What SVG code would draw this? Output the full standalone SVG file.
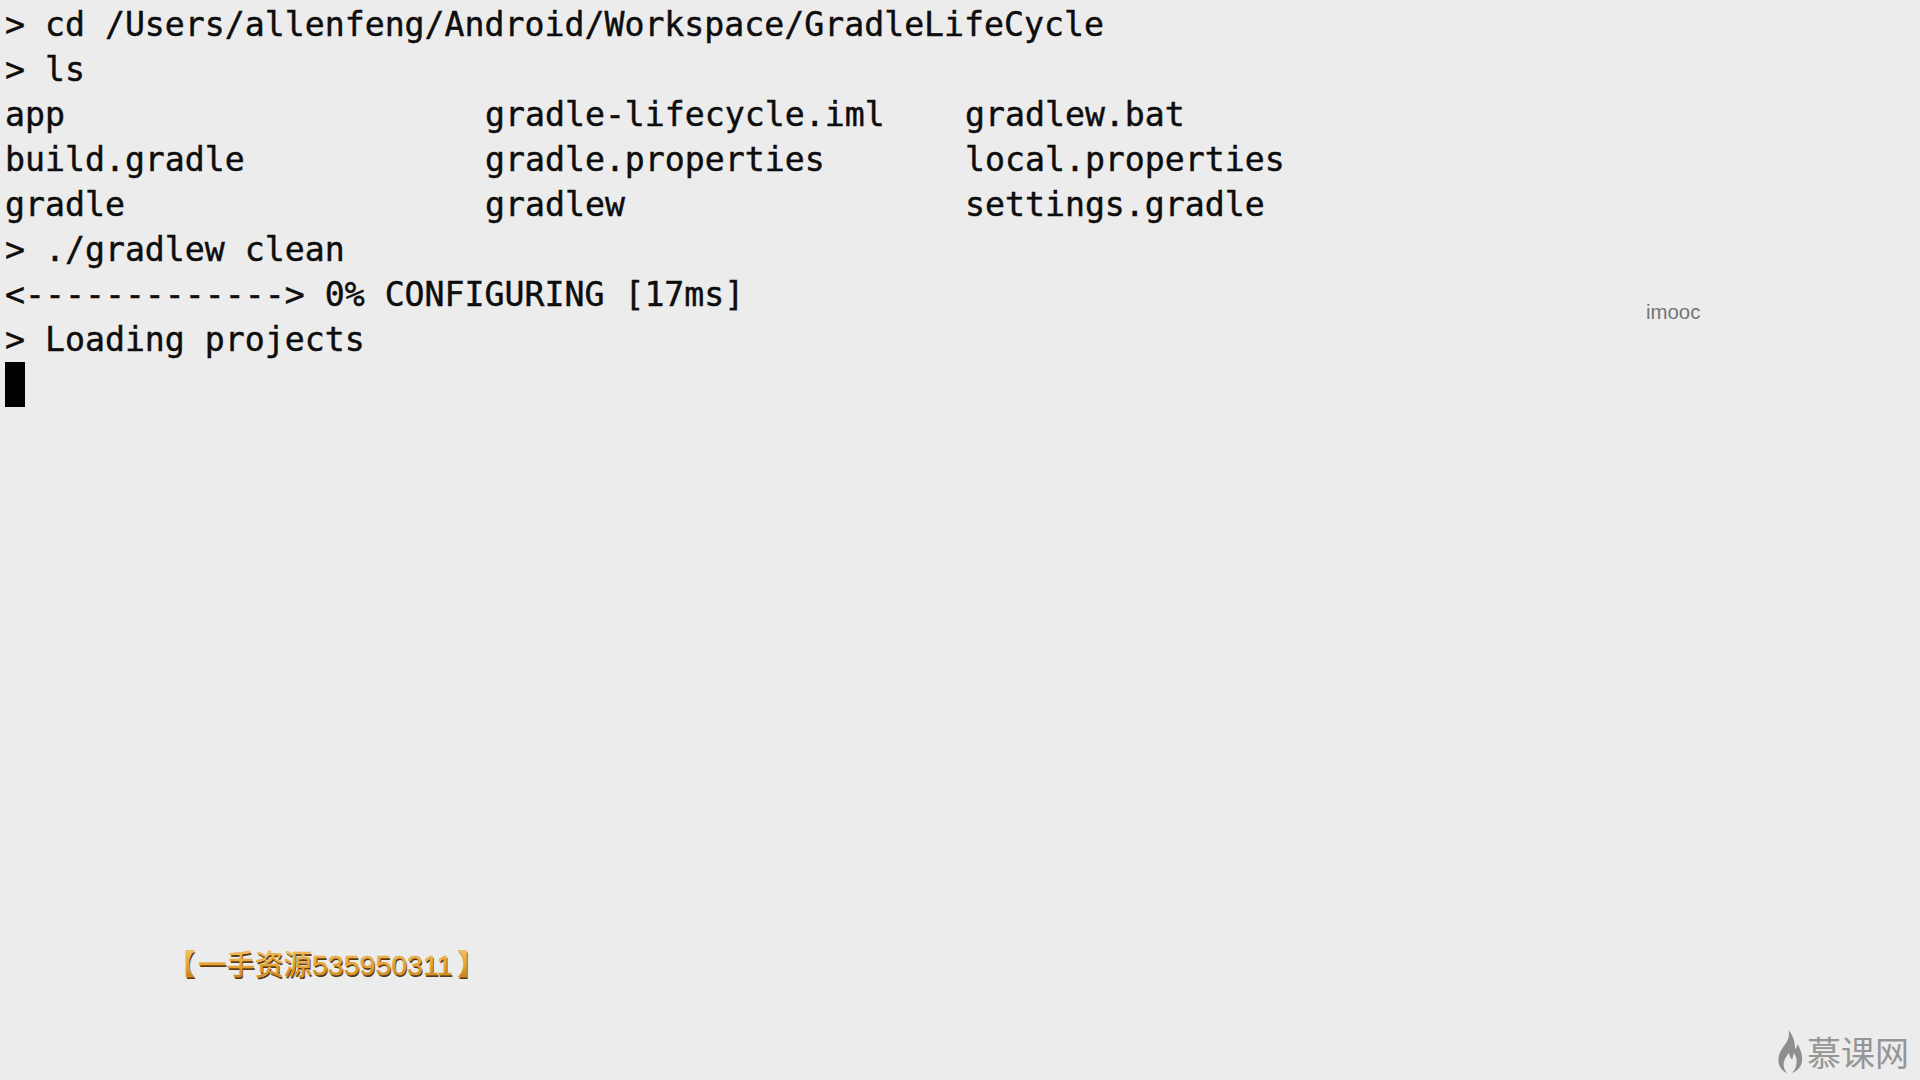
<svg xmlns="http://www.w3.org/2000/svg" width="1920" height="1080" viewBox="0 0 1920 1080">
<style>
.t{font-family:"DejaVu Sans Mono","Liberation Mono",monospace;font-size:33.2px;fill:#0d0d0d;stroke:#0d0d0d;stroke-width:0.45px;white-space:pre}
.g{font-family:"Liberation Sans","Noto Sans CJK SC",sans-serif;font-size:28.5px;font-weight:400}
.l{font-family:"Noto Sans CJK SC",sans-serif;font-size:34px;fill:#969696}
</style>
<defs>
<linearGradient id="gold" x1="0" y1="0" x2="0" y2="1"><stop offset="0" stop-color="#f3c667"/><stop offset="0.55" stop-color="#e0a030"/><stop offset="1" stop-color="#b8741a"/></linearGradient>
</defs>
<rect width="1920" height="1080" fill="#ececec"/>
<g id="terminal">
<text class="t" x="5" y="36">&gt; cd /Users/allenfeng/Android/Workspace/GradleLifeCycle</text>
<text class="t" x="5" y="81">&gt; ls</text>
<text class="t" x="5" y="126">app</text>
<text class="t" x="485" y="126">gradle-lifecycle.iml</text>
<text class="t" x="965" y="126">gradlew.bat</text>
<text class="t" x="5" y="171">build.gradle</text>
<text class="t" x="485" y="171">gradle.properties</text>
<text class="t" x="965" y="171">local.properties</text>
<text class="t" x="5" y="216">gradle</text>
<text class="t" x="485" y="216">gradlew</text>
<text class="t" x="965" y="216">settings.gradle</text>
<text class="t" x="5" y="261">&gt; ./gradlew clean</text>
<text class="t" x="5" y="306">&lt;-------------&gt; 0% CONFIGURING [17ms]</text>
<text class="t" x="5" y="351">&gt; Loading projects</text>
<rect x="5" y="362" width="20" height="45" fill="#000"/>
</g>
<g id="watermark">
<text x="1646" y="319" font-family="Liberation Sans,sans-serif" font-size="20.4" fill="#757575">imooc</text>
</g>
<g id="resource-label">
<g id="label-shadow" transform="translate(1 1.5)" fill="#5a3a10">
<text class="g" x="167" y="975">【</text>
<text class="g" x="198" y="975">一手资源535950311</text>
<text class="g" x="457" y="975">】</text>
</g>
<g fill="url(#gold)" stroke="#e8a83c" stroke-width="0.5">
<text class="g" x="167" y="975">【</text>
<text class="g" x="198" y="975">一手资源535950311</text>
<text class="g" x="457" y="975">】</text>
</g>
</g>
<g id="logo">
<path transform="translate(1788.5 1030) scale(0.72 0.82) translate(-1787 -1031)" d="M1787 1031c2 8-1 13-5 18-5 6-9 11-9 19 0 8 6 14 13 16-5-4-7-10-5-15 1-4 4-6 6-10 2 3 2 6 5 8 1-3 2-5 2-8 4 4 6 10 3 17-1 3-3 5-5 7 8-2 14-8 14-17 0-8-4-13-6-18-1 3-2 5-4 6 0-9-3-17-9-23z" fill="#8e8e8e"/>
<text class="l" x="1807" y="1066">慕课网</text>
</g>
</svg>
